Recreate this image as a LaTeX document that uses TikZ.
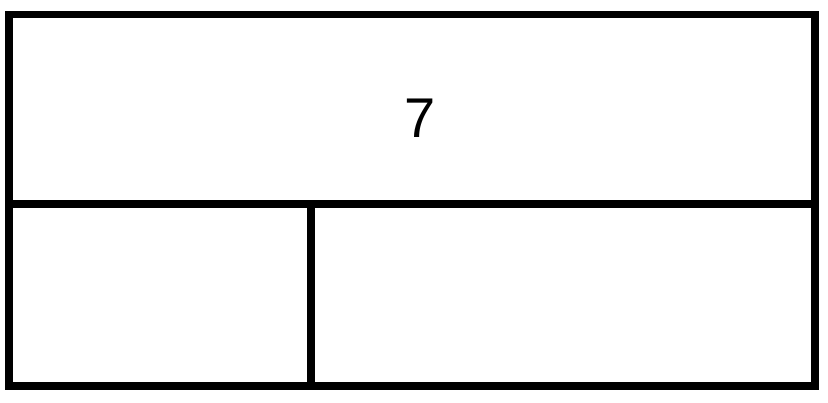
\documentclass[tikz,border=0pt]{standalone}
\usepackage{fontspec}
\setmainfont{Liberation Sans}
\usetikzlibrary{positioning}

\tikzset{bar/.style={draw=black, line width=7.5pt}}

\begin{document}
\begin{tikzpicture}[x=1pt,y=1pt]
  \useasboundingbox (0,0) rectangle (828,402);

  % whole bar
  \draw[bar] (9,198) rectangle (815,387.5);
  \node[font=\fontsize{56}{60}\selectfont] (total) at (420,284) {7};

  % the two parts
  \draw[bar] (9,16) rectangle (311,198);
  \draw[bar] (311,16) rectangle (815,198);
\end{tikzpicture}
\end{document}
